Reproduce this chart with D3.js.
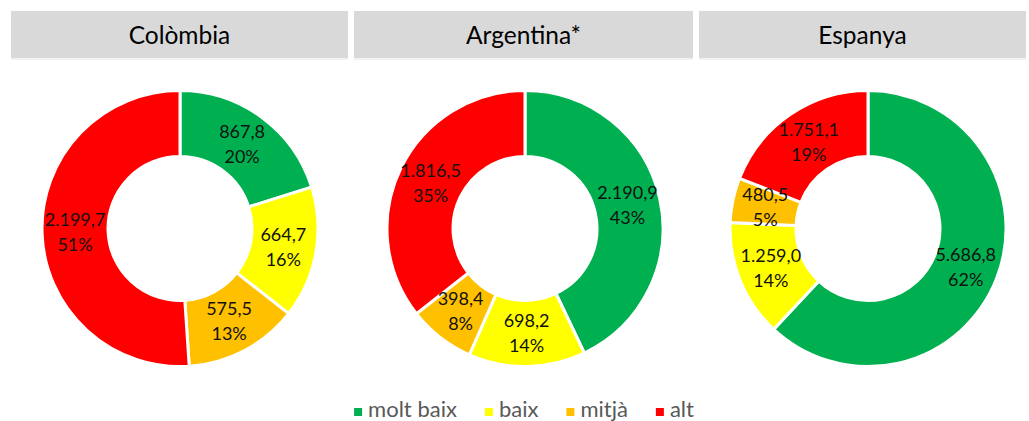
<!DOCTYPE html>
<html>
<head>
<meta charset="utf-8">
<script src="https://cdn.jsdelivr.net/npm/d3@7"></script>
<style>
  html, body { margin: 0; padding: 0; background: #fff; }
  svg { display: block; }
</style>
</head>
<body>
<svg id="chart" width="1029" height="421"></svg>
<script>
// ---- data ----
const categories = ["molt baix", "baix", "mitjà", "alt"];
const countries = ["Colòmbia", "Argentina*", "Espanya"];
const colombiaValues = [867.8, 664.7, 575.5, 2199.7];
const argentinaValues = [2190.9, 698.2, 398.4, 1816.5];
const espanyaValues = [5686.8, 1259.0, 480.5, 1751.1];
const colombiaPct = ["20%", "16%", "13%", "51%"];
const argentinaPct = ["43%", "14%", "8%", "35%"];
const espanyaPct = ["62%", "14%", "5%", "19%"];
const colors = ["#00b050", "#ffff00", "#ffc000", "#ff0000"];

const seriesValues = [colombiaValues, argentinaValues, espanyaValues];
const seriesPct = [colombiaPct, argentinaPct, espanyaPct];

// ---- layout ----
const svg = d3.select("#chart");
const FONT = "Lato, 'Open Sans', sans-serif";
const panels = [
  { x0: 11, x1: 348, cx: 180 },
  { x0: 354, x1: 693, cx: 525 },
  { x0: 699, x1: 1026, cx: 868 }
];
const cy = 228.5, rOuter = 138, rInner = 72;

const locale = d3.formatLocale({ decimal: ",", thousands: ".", grouping: [3], currency: ["", "€"] });
const fmt = locale.format(",.1f");
const color = d3.scaleOrdinal().domain(categories).range(colors);

const pie = d3.pie().sort(null).value(d => d.value);
const arc = d3.arc().innerRadius(rInner).outerRadius(rOuter);
const labelArc = d3.arc().innerRadius((rInner + rOuter) / 2).outerRadius((rInner + rOuter) / 2);

countries.forEach((name, i) => {
  const p = panels[i];
  // header
  svg.append("rect").attr("x", p.x0).attr("y", 58).attr("width", p.x1 - p.x0).attr("height", 2).attr("fill", "#f2f2f2");
  svg.append("rect").attr("x", p.x0).attr("y", 11).attr("width", p.x1 - p.x0).attr("height", 47).attr("fill", "#d9d9d9");
  svg.append("text").attr("x", (p.x0 + p.x1) / 2).attr("y", 44)
    .attr("text-anchor", "middle").attr("font-family", FONT).attr("font-size", 24.5)
    .attr("fill", "#000").text(name);

  const data = categories.map((c, k) => ({ cat: c, value: seriesValues[i][k], pct: seriesPct[i][k] }));
  const arcs = pie(data);
  const g = svg.append("g").attr("transform", `translate(${p.cx},${cy})`);
  g.selectAll("path").data(arcs).join("path")
    .attr("d", arc).attr("fill", d => color(d.data.cat))
    .attr("stroke", "#fff").attr("stroke-width", 3).attr("stroke-linejoin", "miter");
  const lbl = g.selectAll("text").data(arcs).join("text")
    .attr("transform", d => `translate(${labelArc.centroid(d)})`)
    .attr("text-anchor", "middle").attr("font-family", FONT).attr("font-size", 18)
    .attr("fill", "#111");
  lbl.append("tspan").attr("x", 0).attr("y", -6).text(d => fmt(d.data.value));
  lbl.append("tspan").attr("x", 0).attr("y", 19).text(d => d.data.pct);
});

// ---- legend ----
const legend = svg.append("g");
let lx = 0;
categories.forEach((c, k) => {
  const it = legend.append("g").attr("transform", `translate(${lx},0)`);
  it.append("rect").attr("x", 0).attr("y", -9).attr("width", 8).attr("height", 8).attr("fill", colors[k]);
  const t = it.append("text").attr("x", 14).attr("y", 0).attr("font-family", FONT)
    .attr("font-size", 22).attr("fill", "#595959").text(c);
  lx += 14 + t.node().getComputedTextLength() + 28;
});
lx -= 28;
legend.attr("transform", `translate(${524 - lx / 2},417)`);
</script>
</body>
</html>
